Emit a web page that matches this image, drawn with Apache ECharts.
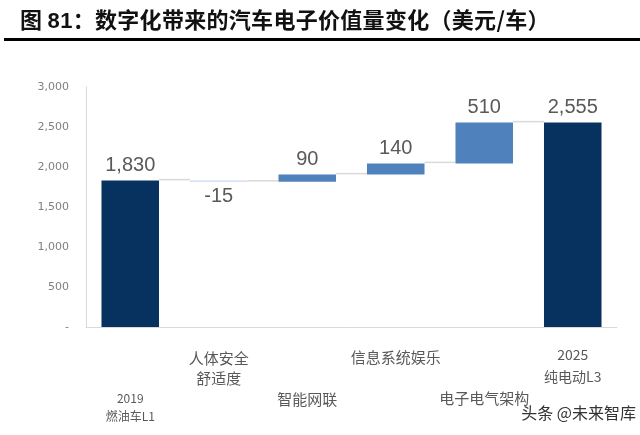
<!DOCTYPE html>
<html>
<head>
<meta charset="utf-8">
<script src="https://cdn.jsdelivr.net/npm/echarts@6/dist/echarts.min.js"></script>
<style>
html,body{margin:0;padding:0;background:#fff;}
#c{width:640px;height:435px;position:relative;}
#title{position:absolute;left:20px;top:3px;font-family:"Noto Sans CJK SC";font-weight:bold;font-size:22px;line-height:30px;color:#111;letter-spacing:0.3px;white-space:nowrap;}
#title .num{font-family:"Liberation Sans";}
#rule{position:absolute;left:4px;right:0;top:38px;height:3px;background:#000;}
#chart{position:absolute;left:0;top:0;width:640px;height:435px;}
</style>
</head>
<body>
<div id="c">
<div id="chart"></div>
<div id="title">图 <span class="num">81</span>：数字化带来的汽车电子价值量变化（美元/车）</div>
<div id="rule"></div>
</div>
<script>
// ---- data ----
const categories = ['2019\n燃油车L1', '人体安全\n舒适度', '智能网联', '信息系统娱乐', '电子电气架构', '2025\n纯电动L3'];
const values = [1830, -15, 90, 140, 510, 2555];
const kinds = ['total', 'delta', 'delta', 'delta', 'delta', 'total'];
const yMax = 3000;
const yStep = 500;
const watermark = '头条 @未来智库';

// ---- derived waterfall geometry (values only) ----
const bases = [], heights = [], levels = [];
let run = 0;
values.forEach((v, i) => {
  if (kinds[i] === 'total') { bases.push(0); heights.push(v); run = v; }
  else { bases.push(Math.min(run, run + v)); heights.push(Math.abs(v)); run += v; }
  levels.push(run);
});

const NAVY = '#07325f', POS = '#4f81bd', NEG = '#c6d9f1';
const labelLayout = [
  {pad: 54, lh: 18, fs: 12},
  {pad: 13, lh: 20, fs: 15},
  {pad: 55, lh: 18, fs: 15},
  {pad: 13, lh: 18, fs: 15},
  {pad: 54, lh: 18, fs: 15},
  {pad: 9,  lh: 22, fs: 14}
];
const BAR_RATIO = 0.65;

const chart = echarts.init(document.getElementById('chart'), null, {renderer: 'canvas'});
chart.setOption({
  animation: false,
  grid: {left: 86, right: 23, top: 87, bottom: 108, containLabel: false},
  xAxis: {
    type: 'category',
    data: categories.map((c, i) => ({
      value: c,
      textStyle: {padding: [labelLayout[i].pad, 0, 0, 0], lineHeight: labelLayout[i].lh, fontSize: labelLayout[i].fs}
    })),
    axisLine: {show: true, lineStyle: {color: '#d9d9d9', width: 1}},
    axisTick: {show: false},
    axisLabel: {interval: 0, color: '#595959', fontFamily: 'Noto Sans CJK SC', margin: 8, align: 'center'},
    splitLine: {show: false}
  },
  yAxis: {
    type: 'value', min: 0, max: yMax, interval: yStep,
    axisLine: {show: true, lineStyle: {color: '#d9d9d9', width: 1}},
    axisTick: {show: false},
    splitLine: {show: false},
    axisLabel: {
      color: '#7f7f7f', fontFamily: 'DejaVu Sans', fontSize: 11, margin: 17,
      formatter: v => v === 0 ? '-' : v.toLocaleString('en-US')
    }
  },
  series: [
    {
      type: 'bar', stack: 'w', barWidth: (BAR_RATIO * 100) + '%',
      itemStyle: {color: 'transparent'}, emphasis: {disabled: true}, silent: true,
      data: bases
    },
    {
      type: 'bar', stack: 'w', barWidth: (BAR_RATIO * 100) + '%',
      data: heights.map((h, i) => ({
        value: h,
        itemStyle: {color: kinds[i] === 'total' ? NAVY : (values[i] < 0 ? NEG : POS)},
        label: {position: values[i] < 0 ? 'bottom' : 'top'}
      })),
      label: {
        show: true, distance: 5, color: '#595959', fontFamily: 'Liberation Sans', fontSize: 20,
        formatter: p => values[p.dataIndex].toLocaleString('en-US')
      }
    },
    {
      type: 'custom',
      silent: true,
      data: levels.slice(0, levels.length - 1).map((l, i) => [i, l]),
      renderItem: (params, api) => {
        const i = api.value(0), lvl = api.value(1);
        const p1 = api.coord([i, lvl]);
        const p2 = api.coord([i + 1, lvl]);
        const bw = api.size([1, 0])[0] * BAR_RATIO;
        return {
          type: 'line',
          shape: {x1: p1[0] + bw / 2, y1: p1[1] - 1, x2: p2[0] - bw / 2, y2: p1[1] - 1},
          style: {stroke: '#d9d9d9', lineWidth: 1.5}
        };
      }
    }
  ],
  graphic: [{
    type: 'text', right: 4, top: 405,
    style: {text: watermark, fill: '#333', font: '16px "Noto Sans CJK SC"'}
  }]
});
</script>
</body>
</html>
